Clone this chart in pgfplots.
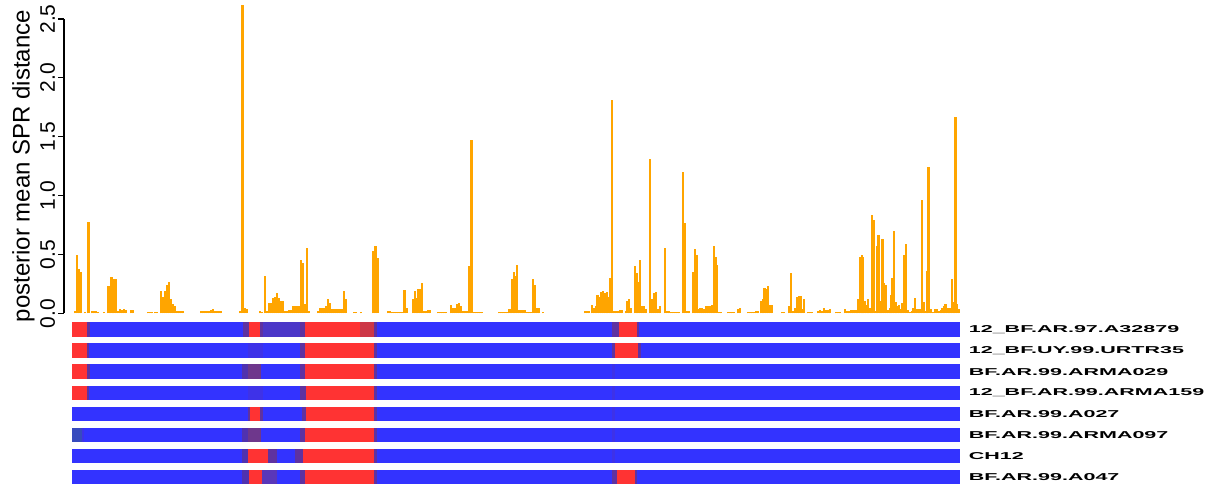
\documentclass[border=0pt]{standalone}
\usepackage{pgfplots}
\pgfplotsset{compat=1.18}
\usepackage{pgfplotstable}
\usepackage{graphicx}
\usepackage{fontspec}
\setmainfont{Liberation Sans}
\definecolor{sprorange}{RGB}{255,165,0}
\definecolor{myblue}{RGB}{51,51,255}
\definecolor{myred}{RGB}{255,51,51}
\definecolor{trans}{RGB}{95,50,160}
\definecolor{transB}{RGB}{80,50,175}
\definecolor{purp}{RGB}{110,55,140}
\definecolor{purpblue}{RGB}{75,55,200}
\definecolor{purpB}{RGB}{90,55,185}
\definecolor{darkblue}{RGB}{62,50,232}
\definecolor{darkred}{RGB}{205,55,70}
\definecolor{slate}{RGB}{55,75,190}

\pgfplotstableread{
x y
75 0.02
77 0.50
79 0.38
81 0.355
85 0.01
88.5 0.78
92 0.02
94 0.02
96 0.02
98 0.01
104 0.01
108 0.23
110 0.23
111.5 0.31
113 0.22
114.5 0.29
116 0.29
118 0.02
120 0.04
122 0.03
124 0.04
126 0.03
131 0.03
133 0.03
148 0.01
150 0.01
152 0.01
155 0.01
157 0.01
161 0.19
163 0.14
165 0.19
167 0.24
169 0.27
171 0.12
173 0.08
175 0.06
177 0.02
179 0.02
181 0.02
183 0.02
201 0.02
203 0.02
205 0.02
207 0.02
209 0.02
211 0.03
213 0.04
215 0.02
217 0.02
219 0.02
221 0.02
240 0.02
242.5 2.62
245 0.05
247 0.04
260 0.02
262 0.01
265 0.32
267 0.02
269 0.09
271 0.09
273 0.13
275 0.14
277 0.17
279 0.13
281 0.11
283 0.11
285 0.02
287 0.02
289 0.03
291 0.03
293 0.06
295 0.06
297 0.06
299 0.06
301 0.455
303 0.43
305 0.08
307 0.56
309 0.02
318 0.02
320 0.05
322 0.05
324 0.05
326 0.06
328 0.12
330 0.09
332 0.04
334 0.04
336 0.04
338 0.04
340 0.04
342 0.04
344 0.19
346 0.12
354 0.01
356 0.01
361 0.01
373.5 0.53
375.5 0.57
377.5 0.47
388 0.02
390 0.02
392 0.01
394 0.01
396 0.01
398 0.01
400 0.01
402 0.01
404.5 0.20
406.5 0.05
413 0.12
415 0.19
417 0.13
418.5 0.21
420 0.21
422 0.26
424 0.02
426 0.02
428 0.03
430 0.03
438 0.01
440 0.01
442 0.01
444 0.01
446 0.01
451 0.07
453 0.05
455 0.05
457 0.08
459 0.09
461 0.06
463 0.02
465 0.02
467 0.02
469.5 0.40
471.5 1.47
474 0.01
476 0.01
478 0.01
480 0.01
482 0.01
499 0.01
501 0.01
503 0.01
505 0.01
507 0.01
509 0.04
511 0.04
512.5 0.29
514 0.355
515.5 0.32
517 0.41
519 0.03
521 0.03
523 0.03
525 0.03
527 0.01
529 0.01
531 0.01
533 0.29
535 0.24
537 0.05
539 0.05
543 0.01
585 0.02
587 0.02
589 0.02
592 0.07
594 0.05
596 0.06
597.5 0.16
599 0.14
601 0.18
603 0.19
605 0.17
607 0.18
608.5 0.14
610 0.30
612 1.81
614 0.02
616 0.02
618 0.02
620 0.03
622 0.03
626 0.02
627.5 0.11
629 0.12
631 0.05
635 0.40
637 0.34
638.5 0.27
640 0.455
642 0.06
644 0.06
646 0.04
650 1.31
652 0.12
654 0.17
656 0.18
658 0.04
660 0.06
665 0.56
667 0.02
669 0.02
671 0.01
673 0.01
675 0.01
677 0.01
679 0.01
683 1.20
685 0.77
687 0.02
689 0.02
693 0.35
695 0.545
696.5 0.50
698 0.04
700 0.05
702 0.05
704 0.04
706 0.06
708 0.06
710 0.06
712 0.07
714 0.57
715.5 0.48
717 0.41
719 0.01
721 0.01
728 0.01
730 0.01
732 0.01
734 0.01
738 0.04
740 0.05
748 0.01
750 0.01
752 0.01
754 0.01
756 0.02
758 0.02
761 0.11
763 0.12
764.5 0.22
766 0.21
768 0.23
770 0.07
772 0.07
782 0.01
784 0.01
789 0.06
791 0.34
793 0.02
795 0.05
797 0.14
799 0.15
801 0.15
802.5 0.04
804 0.12
808 0.01
810 0.01
812 0.01
818 0.02
820 0.03
822 0.02
824 0.05
826 0.03
828 0.03
830 0.04
836 0.01
838 0.01
840 0.01
845 0.04
847 0.02
849 0.02
851 0.03
853 0.03
855 0.03
857 0.03
858.5 0.12
860 0.48
862 0.50
863 0.48
864.5 0.11
866 0.07
868 0.12
869.5 0.05
871 0.02
872 0.84
873.5 0.79
875 0.02
877 0.57
878.5 0.67
880 0.11
881.5 0.11
882.5 0.63
884 0.26
886 0.24
888 0.03
890 0.05
891.5 0.16
892.5 0.30
894 0.70
896 0.10
897.5 0.06
899 0.07
901 0.04
902.5 0.09
904 0.50
906 0.59
908 0.03
910 0.01
912 0.02
913.5 0.05
915 0.13
917 0.04
919 0.04
920.5 0.04
922 0.96
924 0.10
925.5 0.02
927 0.36
928.5 1.24
931 0.04
933 0.01
935 0.04
937 0.04
939 0.02
941 0.03
942.5 0.05
944 0.06
945.5 0.08
947 0.05
949 0.05
950.5 0.05
952 0.29
954 0.10
955.5 1.67
957 0.08
959 0.04
}\sprdata

\newcommand{\seg}[4]{%
  \pgfmathsetmacro\ylo{#1-0.342}%
  \pgfmathsetmacro\yhi{#1+0.342}%
  \edef\tmpseg{\noexpand\addplot[fill=#4,draw=none,forget plot] coordinates {(#2,\ylo) (#3,\ylo) (#3,\yhi) (#2,\yhi)} -- cycle;}%
  \tmpseg}

\begin{document}
\begin{tikzpicture}
\useasboundingbox (0,0) rectangle (604.5pt,243pt);
% ---------- top panel ----------
\begin{axis}[
  at={(32pt,86.25pt)}, anchor=south west,
  scale only axis, width=448pt, height=147.25pt,
  xmin=64, xmax=960, ymin=0, ymax=2.5,
  clip=false,
  axis x line=none, axis y line*=left,
  axis line style={line width=0.6pt, black},
  ytick={0,0.5,1,1.5,2,2.5},
  ytick align=outside, major tick length=3pt,
  tick style={line width=0.6pt, black},
  /pgf/number format/assume math mode=true,
  yticklabel style={/pgf/number format/fixed, /pgf/number format/fixed zerofill,
     /pgf/number format/precision=1, rotate=90, anchor=south, inner sep=0pt,
     font=\fontsize{10.5pt}{12pt}\selectfont},
  yticklabel shift=1.2pt,
  ylabel={posterior mean SPR distance},
  ylabel style={font=\fontsize{12pt}{14pt}\selectfont, at={(axis description cs:-0.0452,0.5)}, anchor=center},
]
\addplot[ycomb, color=sprorange, line width=1.1pt] table[x=x,y=y] {\sprdata};
\end{axis}
% ---------- bottom panel ----------
\begin{axis}[
  at={(32pt,84pt)}, anchor=north west,
  scale only axis, width=448pt, height=84pt,
  xmin=64, xmax=960, ymin=0.454, ymax=8.428, y dir=reverse,
  clip=false,
  axis line style={draw=none},
  xtick=\empty,
  ytick={1,2,3,4,5,6,7,8},
  major tick length=0pt,
  yticklabel pos=right,
  yticklabels={12\_BF.AR.97.A32879, 12\_BF.UY.99.URTR35, BF.AR.99.ARMA029, 12\_BF.AR.99.ARMA159, BF.AR.99.A027, BF.AR.99.ARMA097, CH12, BF.AR.99.A047},
  yticklabel style={anchor=west, inner sep=0pt, xshift=4pt, xscale=2.15,
     font=\fontsize{5pt}{6pt}\selectfont\bfseries},
]
% blue bases
\seg{1}{72}{960}{myblue}
\seg{2}{72}{960}{myblue}
\seg{3}{72}{960}{myblue}
\seg{4}{72}{960}{myblue}
\seg{5}{72}{960}{myblue}
\seg{6}{72}{960}{myblue}
\seg{7}{72}{960}{myblue}
\seg{8}{72}{960}{myblue}
% row 1
\seg{1}{72}{87}{myred}
\seg{1}{87}{89.5}{trans}
\seg{1}{243.3}{249}{trans}
\seg{1}{249}{260}{myred}
\seg{1}{260}{263.3}{trans}
\seg{1}{263.3}{300}{purpblue}
\seg{1}{300}{305}{trans}
\seg{1}{305}{360}{myred}
\seg{1}{360}{374.3}{darkred}
\seg{1}{374.3}{376.7}{trans}
\seg{1}{611.7}{619.3}{trans}
\seg{1}{619.3}{636.7}{myred}
\seg{1}{636.7}{639.3}{trans}
% row 2
\seg{2}{72}{86.7}{myred}
\seg{2}{86.7}{89}{trans}
\seg{2}{248.3}{263.3}{darkblue}
\seg{2}{300}{305}{trans}
\seg{2}{305}{374.3}{myred}
\seg{2}{374.3}{376.5}{trans}
\seg{2}{611.7}{615}{trans}
\seg{2}{615}{638.3}{myred}
\seg{2}{638.3}{640.7}{trans}
% row 3
\seg{3}{72}{87}{myred}
\seg{3}{87}{89.5}{trans}
\seg{3}{241.7}{248.3}{transB}
\seg{3}{248.3}{261}{purp}
\seg{3}{300}{305}{trans}
\seg{3}{305}{374.3}{myred}
\seg{3}{374.3}{376.5}{trans}
\seg{3}{612}{615}{darkblue}
% row 4
\seg{4}{72}{86.7}{myred}
\seg{4}{86.7}{89}{trans}
\seg{4}{248.3}{263.3}{darkblue}
\seg{4}{300}{305.7}{trans}
\seg{4}{305.7}{374.3}{myred}
\seg{4}{374.3}{376.5}{trans}
\seg{4}{612}{615}{darkblue}
% row 5
\seg{5}{247.7}{250}{trans}
\seg{5}{250}{260}{myred}
\seg{5}{260}{263.3}{trans}
\seg{5}{301.7}{305.7}{trans}
\seg{5}{305.7}{374.3}{myred}
\seg{5}{374.3}{376.5}{trans}
\seg{5}{612}{615}{darkblue}
% row 6
\seg{6}{72}{82}{slate}
\seg{6}{82}{84}{darkblue}
\seg{6}{241.7}{248.3}{transB}
\seg{6}{248.3}{261}{purp}
\seg{6}{300}{305}{trans}
\seg{6}{305}{374.3}{myred}
\seg{6}{374.3}{376.5}{trans}
\seg{6}{612}{615}{darkblue}
% row 7
\seg{7}{242.3}{248.3}{transB}
\seg{7}{248.3}{268.3}{myred}
\seg{7}{268.3}{276.7}{trans}
\seg{7}{295}{303.3}{trans}
\seg{7}{303.3}{374.3}{myred}
\seg{7}{374.3}{376.5}{trans}
\seg{7}{612}{615}{darkblue}
% row 8
\seg{8}{242.3}{249}{transB}
\seg{8}{249}{261.7}{myred}
\seg{8}{261.7}{276.7}{purpB}
\seg{8}{300}{305}{trans}
\seg{8}{305}{374.3}{myred}
\seg{8}{374.3}{376.5}{trans}
\seg{8}{611.7}{617.3}{trans}
\seg{8}{617.3}{635}{myred}
\seg{8}{635}{637.3}{trans}
\end{axis}
\end{tikzpicture}
\end{document}
